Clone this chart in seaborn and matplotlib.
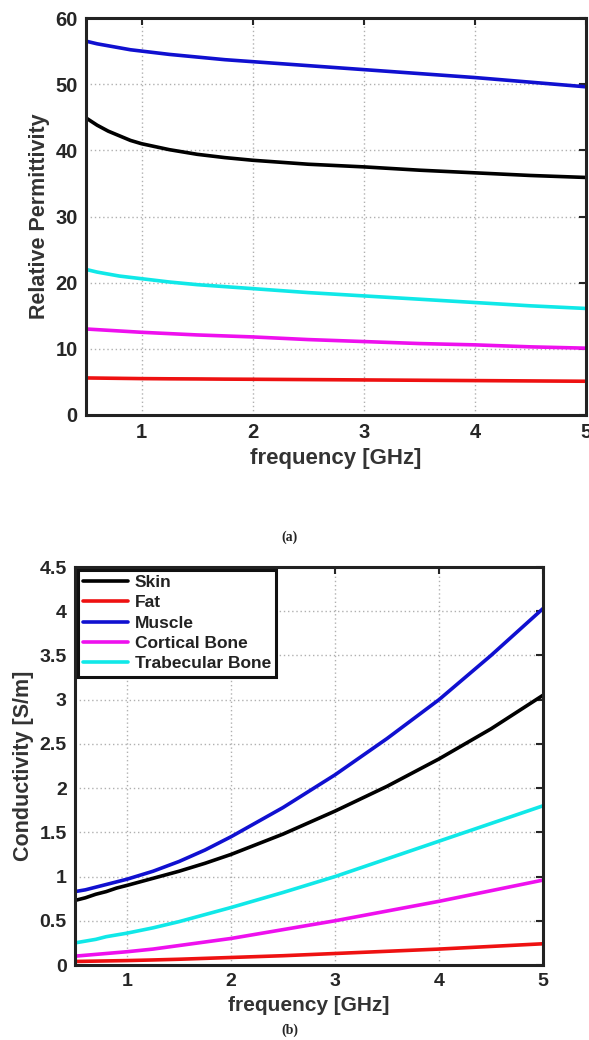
import numpy as np
import pandas as pd
import matplotlib
matplotlib.use("Agg")
import matplotlib.pyplot as plt
import seaborn as sns

# frequency points [GHz]
freq = [0.5, 0.6, 0.7, 0.8, 0.9, 1, 1.25, 1.5, 1.75, 2, 2.5, 3, 3.5, 4, 4.5, 5]

tissues = ["Skin", "Fat", "Muscle", "Cortical Bone", "Trabecular Bone"]
colors = ["#000000", "#ee1111", "#1010d0", "#ee10ee", "#10e8e8"]

# relative permittivity
perm_skin = [44.9, 43.8, 42.9, 42.2, 41.5, 41.0, 40.1, 39.4, 38.9, 38.5, 37.9, 37.5, 37.0, 36.6, 36.2, 35.9]
perm_fat = [5.6, 5.58, 5.56, 5.54, 5.52, 5.5, 5.47, 5.45, 5.42, 5.4, 5.35, 5.3, 5.25, 5.2, 5.15, 5.1]
perm_muscle = [56.5, 56.1, 55.8, 55.5, 55.2, 55.0, 54.5, 54.1, 53.7, 53.4, 52.8, 52.2, 51.6, 51.0, 50.3, 49.6]
perm_cortical = [13.0, 12.9, 12.8, 12.7, 12.6, 12.5, 12.3, 12.1, 11.95, 11.8, 11.4, 11.1, 10.8, 10.6, 10.3, 10.1]
perm_trab = [22.0, 21.6, 21.3, 21.0, 20.8, 20.6, 20.1, 19.7, 19.4, 19.1, 18.5, 18.0, 17.5, 17.0, 16.5, 16.1]

# conductivity [S/m]
cond_skin = [0.73, 0.76, 0.80, 0.83, 0.87, 0.90, 0.98, 1.06, 1.15, 1.25, 1.48, 1.74, 2.02, 2.33, 2.67, 3.05]
cond_fat = [0.04, 0.042, 0.044, 0.046, 0.048, 0.05, 0.057, 0.065, 0.075, 0.085, 0.105, 0.13, 0.155, 0.18, 0.21, 0.24]
cond_muscle = [0.83, 0.85, 0.88, 0.91, 0.94, 0.97, 1.06, 1.17, 1.30, 1.45, 1.78, 2.15, 2.56, 3.0, 3.5, 4.03]
cond_cortical = [0.10, 0.11, 0.12, 0.13, 0.14, 0.15, 0.18, 0.22, 0.26, 0.30, 0.40, 0.50, 0.61, 0.72, 0.84, 0.96]
cond_trab = [0.25, 0.27, 0.29, 0.32, 0.34, 0.36, 0.42, 0.49, 0.57, 0.65, 0.82, 1.0, 1.2, 1.4, 1.6, 1.8]


def long_df(series):
    rows = []
    for name, vals in zip(tissues, series):
        for f, v in zip(freq, vals):
            rows.append({"freq": f, "value": v, "tissue": name})
    return pd.DataFrame(rows)


df_perm = long_df([perm_skin, perm_fat, perm_muscle, perm_cortical, perm_trab])
df_cond = long_df([cond_skin, cond_fat, cond_muscle, cond_cortical, cond_trab])

sns.set_style("white")
plt.rcParams["font.family"] = ["Liberation Sans", "DejaVu Sans"]
plt.rcParams["font.weight"] = "bold"
pal = dict(zip(tissues, colors))

fig = plt.figure(figsize=(5.89, 10.40), dpi=100)
W, H = 589, 1040
ax1 = fig.add_axes([86 / W, 1 - 415 / H, 500 / W, 397 / H])
ax2 = fig.add_axes([75 / W, 1 - 965 / H, 468 / W, 398 / H])


def style(ax, fs):
    ax.grid(True, linestyle=(0, (1, 2)), color="#b0b0b0", linewidth=1.0)
    ax.set_xlim(0.5, 5)
    ax.set_xticks([1, 2, 3, 4, 5])
    ax.tick_params(direction="in", top=True, right=True, length=5, width=1.5,
                   labelsize=fs, pad=6)
    for lab in ax.get_xticklabels() + ax.get_yticklabels():
        lab.set_fontweight("bold")
    for s in ax.spines.values():
        s.set_linewidth(2.2)
        s.set_color("#222222")
    ax.set_axisbelow(True)


sns.lineplot(data=df_perm, x="freq", y="value", hue="tissue", palette=pal,
             linewidth=2.6, ax=ax1, legend=False)
style(ax1, 14.5)
ax1.set_ylim(0, 60)
ax1.set_yticks(range(0, 61, 10))
ax1.set_xlabel("frequency [GHz]", fontsize=16, fontweight="bold", color="#333333")
ax1.set_ylabel("Relative Permittivity", fontsize=15.5, fontweight="bold", color="#333333")

sns.lineplot(data=df_cond, x="freq", y="value", hue="tissue", palette=pal,
             linewidth=2.6, ax=ax2)
style(ax2, 14)
ax2.set_ylim(0, 4.5)
ax2.set_yticks(np.arange(0, 4.51, 0.5))
ax2.set_yticklabels(["0", "0.5", "1", "1.5", "2", "2.5", "3", "3.5", "4", "4.5"])
ax2.set_xlabel("frequency [GHz]", fontsize=15, fontweight="bold", color="#333333")
ax2.set_ylabel("Conductivity [S/m]", fontsize=15.5, fontweight="bold", color="#333333")

leg = ax2.legend(loc="upper left", fontsize=12.5, handlelength=2.6, borderpad=0.3,
                 labelspacing=0.3, handletextpad=0.4, fancybox=False,
                 framealpha=1, borderaxespad=0.15)
leg.get_frame().set_edgecolor("#111111")
leg.get_frame().set_linewidth(2.2)
for t in leg.get_texts():
    t.set_fontweight("bold")
    t.set_color("#222222")

fig.text(290 / W, 1 - 537 / H, "(a)", ha="center", va="center",
         fontsize=10, fontweight="bold", family="Liberation Serif")
fig.text(290 / W, 1 - 1030 / H, "(b)", ha="center", va="center",
         fontsize=10, fontweight="bold", family="Liberation Serif")

fig.savefig("out.png", dpi=100)
